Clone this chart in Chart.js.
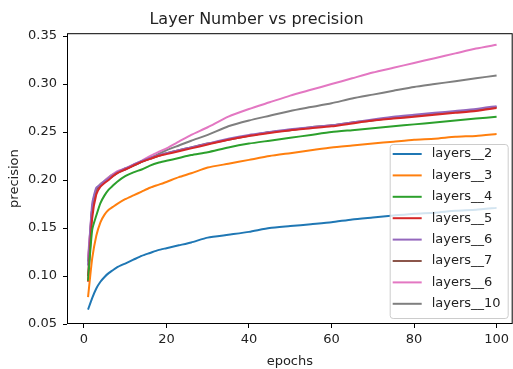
<!DOCTYPE html>
<html>
<head>
<meta charset="utf-8">
<script src="https://cdn.jsdelivr.net/npm/chart.js@4.4.1/dist/chart.umd.min.js"></script>
<style>
  html, body { margin: 0; padding: 0; background: #fff; }
  #wrap { width: 513px; height: 369px; }
</style>
</head>
<body>
<div id="wrap"><canvas id="layerChart"></canvas></div>
<script>
const epochs = [1,2,3,4,5,6,7,8,10,12,14,16,18,20,23,26,30,35,40,45,50,55,60,65,70,75,80,85,90,95,100];

const layers2  = [.065,.077,.087,.094,.099,.103,.106,.109,.113,.117,.121,.124,.127,.129,.132,.135,.140,.143,.146,.150,.152,.154,.156,.159,.161,.163,.165,.166,.168,.169,.171];
const layers3  = [.078,.118,.142,.156,.164,.169,.172,.175,.180,.184,.188,.192,.195,.198,.203,.207,.213,.217,.221,.225,.228,.231,.234,.236,.238,.240,.242,.243,.245,.246,.248];
const layers4  = [.095,.148,.163,.176,.184,.190,.194,.198,.204,.208,.211,.215,.218,.220,.223,.226,.229,.234,.238,.241,.244,.247,.250,.252,.254,.256,.258,.260,.262,.264,.266];
const layers5  = [.094,.160,.185,.193,.197,.200,.204,.207,.211,.215,.219,.222,.225,.227,.230,.233,.237,.242,.246,.249,.252,.254,.256,.259,.262,.264,.266,.268,.270,.272,.275];
const layers6a = [.111,.175,.192,.195,.199,.202,.205,.208,.212,.216,.220,.223,.226,.228,.231,.234,.238,.243,.247,.250,.253,.255,.257,.260,.263,.266,.268,.270,.272,.274,.277];
const layers7  = [.100,.170,.190,.194,.198,.201,.204,.207,.211,.215,.219,.222,.225,.228,.231,.234,.238,.242,.246,.250,.252,.255,.257,.260,.262,.265,.267,.269,.271,.273,.276];
const layers6b = [.120,.170,.190,.195,.199,.203,.206,.209,.212,.216,.220,.225,.229,.233,.240,.247,.255,.266,.274,.281,.288,.294,.300,.306,.312,.317,.322,.327,.332,.337,.341];
const layers10 = [.115,.170,.190,.196,.199,.203,.206,.208,.212,.215,.219,.223,.227,.231,.236,.241,.247,.256,.262,.267,.272,.276,.280,.285,.289,.293,.297,.300,.303,.306,.309];

const labels = ['layers__2','layers__3','layers__4','layers__5','layers__6','layers__7','layers__6','layers__10'];
const series = [layers2, layers3, layers4, layers5, layers6a, layers7, layers6b, layers10];
const colors = ['#1f77b4','#ff7f0e','#2ca02c','#d62728','#9467bd','#8c564b','#e377c2','#7f7f7f'];

const xTicks = [0,20,40,60,80,100];
const yTicks = [0.05,0.10,0.15,0.20,0.25,0.30,0.35];

const font = 'DejaVu Sans';

// box round the plot, like matplotlib's spines
const framePlugin = {
  id: 'frame',
  afterDatasetsDraw(chart) {
    const a = chart.chartArea, c = chart.ctx;
    c.save();
    c.strokeStyle = '#000';
    c.lineWidth = 1;
    c.strokeRect(a.left + 0.5, a.top + 0.5, a.right - a.left - 1, a.bottom - a.top - 1);
    c.restore();
  }
};

// legend inside the plot, lower right
const legendPlugin = {
  id: 'innerLegend',
  afterDraw(chart) {
    const a = chart.chartArea, c = chart.ctx;
    const rowH = 21.4, w = 118, h = 174;
    const x0 = a.right - 5 - w, y0 = a.bottom - 6 - h;
    c.save();
    c.fillStyle = 'rgba(255,255,255,0.8)';
    c.strokeStyle = '#cccccc';
    c.lineWidth = 1;
    c.beginPath();
    c.roundRect(x0 + 0.5, y0 + 0.5, w, h, 3);
    c.fill();
    c.stroke();
    c.font = '13px "' + font + '"';
    c.textBaseline = 'middle';
    chart.data.datasets.forEach((ds, i) => {
      const y = y0 + 10 + i * rowH;
      c.strokeStyle = ds.borderColor;
      c.lineWidth = 2;
      c.beginPath();
      c.moveTo(x0 + 3, y);
      c.lineTo(x0 + 32, y);
      c.stroke();
      c.fillStyle = '#222';
      c.fillText(ds.label, x0 + 42, y);
    });
    c.restore();
  }
};

new Chart(document.getElementById('layerChart'), {
  type: 'line',
  data: {
    datasets: series.map((vals, i) => ({
      label: labels[i],
      data: vals.map((v, j) => ({ x: epochs[j], y: v })),
      borderColor: colors[i],
      backgroundColor: colors[i],
      borderWidth: 2,
      pointRadius: 0,
      tension: 0.2,
      fill: false
    }))
  },
  options: {
    responsive: true,
    maintainAspectRatio: false,
    animation: false,
    layout: { padding: 0 },
    plugins: {
      legend: { display: false },
      tooltip: { enabled: false },
      title: {
        display: true,
        text: 'Layer Number vs precision',
        color: '#222',
        font: { family: font, size: 16, weight: 'normal' },
        padding: { top: 10, bottom: 4 }
      }
    },
    scales: {
      x: {
        type: 'linear',
        min: -4.1,
        max: 103.9,
        afterBuildTicks: s => { s.ticks = xTicks.map(v => ({ value: v })); },
        afterFit: s => { s.height = 45; },
        grid: { drawOnChartArea: false, drawTicks: true, tickLength: 4, tickColor: '#000' },
        border: { display: false },
        ticks: { color: '#222', font: { family: font, size: 13 }, padding: 4, maxRotation: 0 },
        title: { display: true, text: 'epochs', color: '#222', font: { family: font, size: 13 }, padding: 0 }
      },
      y: {
        min: 0.05,
        max: 0.353,
        afterBuildTicks: s => { s.ticks = yTicks.map(v => ({ value: v })); },
        afterFit: s => { s.width = 67; },
        grid: { drawOnChartArea: false, drawTicks: true, tickLength: 4, tickColor: '#000' },
        border: { display: false },
        ticks: { color: '#222', font: { family: font, size: 13 }, padding: 6, callback: v => v.toFixed(2) },
        title: { display: true, text: 'precision', color: '#222', font: { family: font, size: 13 }, padding: { top: 7, bottom: 0 } }
      }
    }
  },
  plugins: [framePlugin, legendPlugin]
});
</script>
</body>
</html>
